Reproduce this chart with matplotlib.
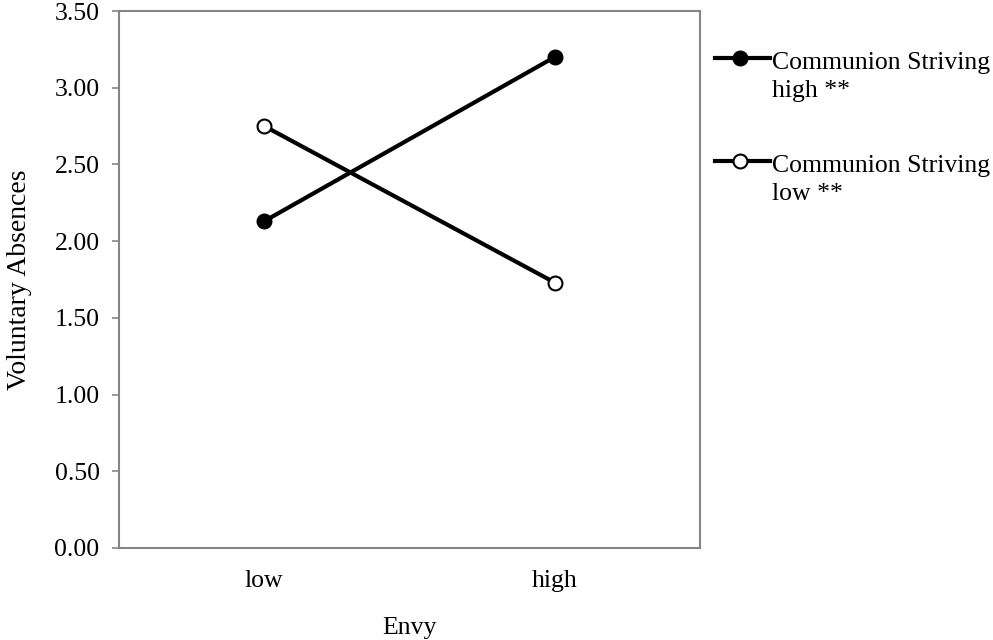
import matplotlib
matplotlib.use("Agg")
import matplotlib.pyplot as plt
import matplotlib.ticker as mticker
import numpy as np
from matplotlib.lines import Line2D

# data
envy_levels = ["low", "high"]
striving_high = [2.13, 3.20]
striving_low = [2.75, 1.73]
series_labels = ["Communion Striving\nhigh **", "Communion Striving\nlow **"]
y_ticks = [0.0, 0.5, 1.0, 1.5, 2.0, 2.5, 3.0, 3.5]

plt.rcParams['font.family'] = ['Liberation Serif', 'DejaVu Serif']
FS = 18.5
frame_col = '#858585'

fig = plt.figure(figsize=(9.93, 6.40), dpi=100)
ax = fig.add_axes([119 / 993, 1 - 548 / 640, (700 - 119) / 993, (548 - 11) / 640])

x = np.arange(len(envy_levels))
ax.plot(x, striving_high, color='black', lw=3, marker='o', ms=10,
        mfc='black', mec='black', mew=1.5, zorder=3)
ax.plot(x, striving_low, color='black', lw=3, marker='o', ms=10,
        mfc='white', mec='black', mew=1.5, zorder=3)

ax.set_xlim(-0.5, 1.5)
ax.set_ylim(0, 3.5)
ax.set_xticks(x)
ax.set_xticklabels(envy_levels, fontsize=FS)
ax.yaxis.set_major_locator(mticker.FixedLocator(y_ticks))
ax.yaxis.set_major_formatter(mticker.FormatStrFormatter('%.2f'))
ax.tick_params(axis='y', labelsize=FS, length=5, width=1.2, color=frame_col, pad=9)
ax.tick_params(axis='x', length=0, pad=16)

for sp in ax.spines.values():
    sp.set_color(frame_col)
    sp.set_linewidth(1.5)

ax.set_xlabel("Envy", fontsize=FS, labelpad=18)
ax.set_ylabel("Voluntary Absences", fontsize=20, labelpad=16)

# legend drawn by hand so handle sits on the first text line
axh = 548 - 11
legend_rows = [(58, 'black'), (161, 'white')]
for (ypix, face), label in zip(legend_rows, series_labels):
    yf = (548 - ypix) / axh
    x0 = (715 - 119) / 581
    x1 = (770 - 119) / 581
    xm = (740 - 119) / 581
    ax.add_line(Line2D([x0, x1], [yf, yf], transform=ax.transAxes, color='black',
                       lw=3, clip_on=False))
    ax.add_line(Line2D([xm], [yf], transform=ax.transAxes, color='black', marker='o',
                       ms=10, mfc=face, mec='black', mew=1.5, clip_on=False))
    # baseline of the last line sits 39 px below the handle
    ax.text((772 - 119) / 581, (548 - ypix - 39) / axh, label, transform=ax.transAxes,
            fontsize=FS, ha='left', va='baseline', linespacing=1.38)

fig.savefig("out.png", dpi=100)
